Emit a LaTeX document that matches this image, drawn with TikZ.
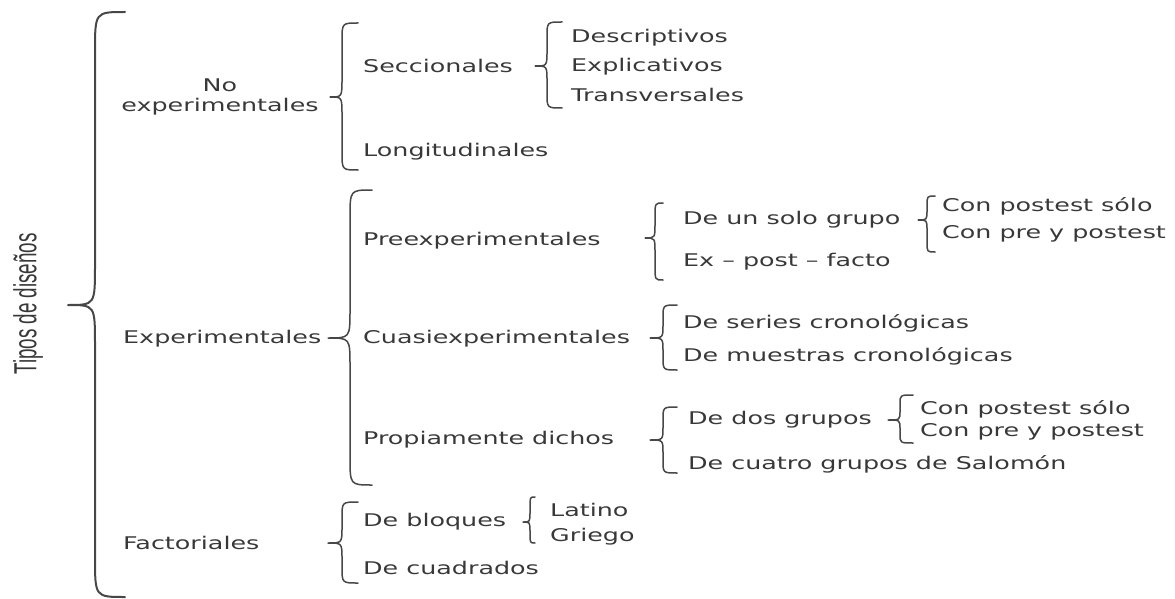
\documentclass[tikz,border=0pt]{standalone}
\usepackage{fontspec}
\usepackage{graphicx}
\setmainfont{DejaVu Sans}[FakeStretch=1.45]
\newfontfamily\rotf{Liberation Sans}
\tikzset{
  lbl/.style={anchor=base west, inner sep=0pt, text=black!78, font=\fontsize{17.5}{20}\selectfont},
  brc/.style={draw=black!72, line width=1.5pt, line cap=round, line join=round},
  bigbrc/.style={brc, line width=2pt},
  rotlbl/.style={inner sep=0pt, rotate=90, text=black!78, font=\rotf\fontsize{18.8}{20}\selectfont},
}
% [style] xend, xline, xtip, ytop, ymid, ybot, radius
\newcommand{\cbr}[8][brc]{\draw[#1] (#2,#5) .. controls (#3,#5) .. (#3,{#5+#8}) -- (#3,{#6-#8}) .. controls (#3,#6) .. (#4,#6) .. controls (#3,#6) .. (#3,{#6+#8}) -- (#3,{#7-#8}) .. controls (#3,#7) .. (#2,#7);}
\begin{document}
\begin{tikzpicture}[x=1pt,y=-1pt]
\useasboundingbox (0,0) rectangle (1175,599);
% level 0
\node[rotlbl] (tipos) at (28,304) {\scalebox{1}[1.7]{Tipos de diseños}};
\cbr[bigbrc]{125}{95}{68}{12}{305}{597}{40}
% level 1
\node[lbl, anchor=center, align=center] (noexp) at (220,97) {No\\experimentales};
\node[lbl] (exper) at (123,343.5) {Experimentales};
\node[lbl] (fact) at (123,549.5) {Factoriales};
% no experimentales
\cbr{358}{342}{330}{23}{97}{170}{18}
\node[lbl] (secc) at (363,73) {Seccionales};
\node[lbl] (longi) at (363,156.5) {Longitudinales};
\cbr{562}{547}{535}{22}{66}{108}{15}
\node[lbl] (desc) at (571,42.5) {Descriptivos};
\node[lbl] (expl) at (571,71.5) {Explicativos};
\node[lbl] (trans) at (571,101.5) {Transversales};
% experimentales
\cbr{372}{350}{328}{190}{338}{485}{28}
\node[lbl] (pre) at (363,245.5) {Preexperimentales};
\node[lbl] (cuasi) at (363,343.5) {Cuasiexperimentales};
\node[lbl] (prop) at (363,444.5) {Propiamente dichos};
\cbr{663}{655}{645}{203}{238}{280}{14}
\node[lbl] (solo) at (683,224.5) {De un solo grupo};
\node[lbl] (expf) at (683,266.5) {Ex – post – facto};
\cbr{935}{927}{918}{196}{220}{252}{10}
\node[lbl] (cps1) at (942,211.5) {Con postest sólo};
\node[lbl] (cpp1) at (942,238.5) {Con pre y postest};
\cbr{677}{663}{650}{305}{338}{370}{13}
\node[lbl] (series) at (683,328.5) {De series cronológicas};
\node[lbl] (muestras) at (683,361.5) {De muestras cronológicas};
\cbr{677}{663}{650}{407}{440}{473}{13}
\node[lbl] (dos) at (688,424.5) {De dos grupos};
\node[lbl] (cuatro) at (688,469.5) {De cuatro grupos de Salomón};
\cbr{913}{900}{888}{395}{420}{443}{9}
\node[lbl] (cps2) at (920,414.5) {Con postest sólo};
\node[lbl] (cpp2) at (920,436.5) {Con pre y postest};
% factoriales
\cbr{358}{342}{328}{502}{543}{583}{16}
\node[lbl] (bloq) at (363,526.5) {De bloques};
\node[lbl] (cuad) at (363,574.5) {De cuadrados};
\cbr{535}{530}{523}{497}{522}{543}{10}
\node[lbl] (lat) at (550,516.5) {Latino};
\node[lbl] (grie) at (550,541.5) {Griego};
\end{tikzpicture}
\end{document}
